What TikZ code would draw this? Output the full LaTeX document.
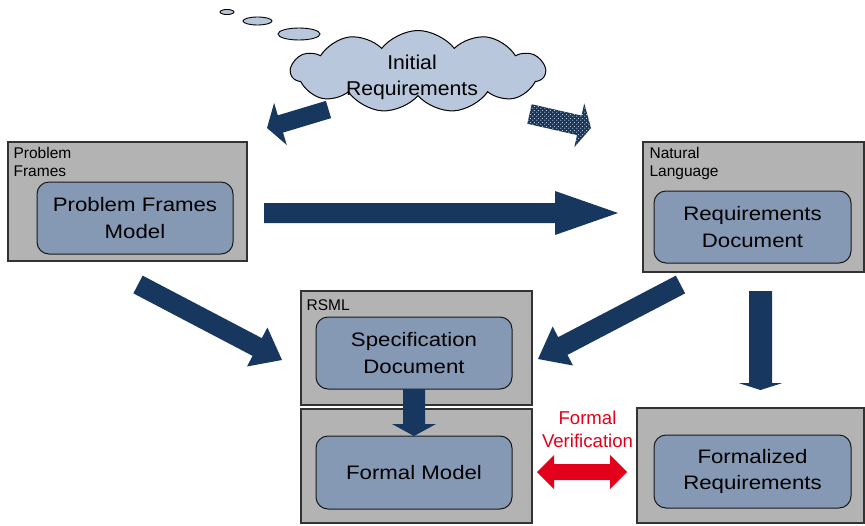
\documentclass[tikz,border=0pt]{standalone}
\usepackage{fontspec}
\setmainfont{Liberation Sans}
\newfontfamily\boxfont{Liberation Sans}[FakeStretch=1.14]
\newfontfamily\cloudfont{Liberation Sans}[FakeStretch=1.06]
\usetikzlibrary{calc,shapes.symbols,shapes.geometric,patterns.meta}

\definecolor{navyarrow}{HTML}{17375E}
\definecolor{framegray}{HTML}{B3B3B3}
\definecolor{modelblue}{HTML}{8699B4}
\definecolor{cloudblue}{HTML}{B9C7DC}
\definecolor{verifred}{HTML}{E2001A}

% sparse dot grid for the hatched arrow
\tikzdeclarepattern{name=whitedots, type=uncolored,
  bounding box={(0pt,0pt) and (4pt,4pt)}, tile size={(4pt,4pt)},
  code={\fill (1pt,1pt) circle (0.75pt); \fill (3pt,3pt) circle (0.75pt);}}

% block arrow from #2 to #3: shaft width #4, head width #5, head length #6 (all pt)
\newcommand\blockarrow[6][]{%
  \path[#1] let \p1=(#2), \p2=(#3),
      \n1={atan2(\y2-\y1,\x2-\x1)}, \n2={veclen(\x2-\x1,\y2-\y1)} in
    [shift={(\x1,\y1)}, rotate=\n1]
    (0pt,{#4/2*1pt}) -- ({(\n2-#6)*1pt},{#4/2*1pt}) -- ({(\n2-#6)*1pt},{#5/2*1pt})
    -- ({\n2*1pt},0pt) -- ({(\n2-#6)*1pt},{-#5/2*1pt}) -- ({(\n2-#6)*1pt},{-#4/2*1pt})
    -- (0pt,{-#4/2*1pt}) -- cycle;}

\tikzset{
  frame/.style={draw=black!80, fill=framegray, line width=1.2pt, inner sep=0pt},
  model/.style={draw=black!90, fill=modelblue, line width=1pt, rounded corners=12pt,
    align=center, inner sep=0pt, minimum width=196pt, minimum height=72pt,
    font=\boxfont\fontsize{19.5}{26.5}\selectfont},
  framelabel/.style={anchor=north west, align=left, inner sep=0pt,
    font=\fontsize{15.5}{18}\selectfont},
  bubble/.style={ellipse, draw=black, line width=0.9pt, fill=cloudblue, inner sep=0pt},
  solidarrow/.style={fill=navyarrow},
  dotarrow/.style={preaction={fill=navyarrow}, pattern=whitedots, pattern color=white!80!navyarrow},
}

\begin{document}
\begin{tikzpicture}[x=1pt,y=-1pt]
\useasboundingbox (0,0) rectangle (865,525);

% thought cloud with its trailing bubbles
\node[bubble, minimum width=14pt, minimum height=5pt] (b1) at (227,12) {};
\node[bubble, minimum width=29pt, minimum height=8pt] (b2) at (257.5,21) {};
\node[bubble, minimum width=42pt, minimum height=12pt] (b3) at (299,34) {};
\node[cloud, cloud puffs=11, cloud puff arc=105, aspect=3.2, draw=black, line width=1pt,
      fill=cloudblue, minimum width=254pt, minimum height=82pt, inner sep=0pt] (cloud) at (418,71.5) {};
\node[align=center, inner sep=0pt, font=\cloudfont\fontsize{20}{26}\selectfont] (cloudtext) at (412,77) {Initial\\Requirements};

% frames
\node[frame, minimum width=239pt, minimum height=119pt] (pfo) at (127.5,201.5) {};
\node[frame, minimum width=221pt, minimum height=130pt] (nlo) at (753.5,207) {};
\node[frame, minimum width=231pt, minimum height=114pt] (rso) at (416.5,348) {};
\node[frame, minimum width=231pt, minimum height=114pt] (fmo) at (416.5,466) {};
\node[frame, minimum width=227pt, minimum height=115pt] (fro) at (750.5,465.5) {};

\node[framelabel] (pflabel) at ($(pfo.north west)+(6,5.5)$) {Problem\\Frames};
\node[framelabel] (nllabel) at ($(nlo.north west)+(7,5.5)$) {Natural\\Language};
\node[framelabel] (rslabel) at ($(rso.north west)+(6,9.5)$) {RSML};

% models
\node[model] (pfm) at (135,218) {Problem Frames\\Model};
\node[model, minimum width=197pt] (rdoc) at (752.5,227) {Requirements\\Document};
\node[model] (spec) at (414,353) {Specification\\Document};
\node[model, minimum height=73pt] (fmodel) at (414,472.5) {Formal Model};
\node[model, minimum width=197pt, minimum height=73pt] (freq) at (752.5,471.5) {Formalized\\Requirements};

% verification label
\node[align=center, inner sep=0pt, text=verifred, font=\fontsize{18.6}{23}\selectfont] (fvlabel) at (587.5,429) {Formal\\Verification};

% arrow end points
\coordinate (c2pf-s) at (328.5,109.5);  \coordinate (c2pf-e) at (267,128);
\coordinate (c2nl-s) at (529.5,114);    \coordinate (c2nl-e) at (591,128);
\coordinate (pf2nl-s) at (264,213);     \coordinate (pf2nl-e) at (618,213);
\coordinate (pf2rs-s) at (138,284.5);   \coordinate (pf2rs-e) at (282,360);
\coordinate (nl2rs-s) at (680.5,284.5); \coordinate (nl2rs-e) at (538,359);
\coordinate (nl2fr-s) at (760.5,291);   \coordinate (nl2fr-e) at (760.5,390);
\coordinate (sp2fm-s) at (414,389);     \coordinate (sp2fm-e) at (414,436);
\coordinate (fv-l) at (537,472);        \coordinate (fv-r) at (627,472);

% block arrows
\blockarrow[solidarrow]{c2pf-s}{c2pf-e}{18}{44}{14}
\blockarrow[dotarrow]{c2nl-s}{c2nl-e}{20}{45}{12}
\blockarrow[solidarrow]{pf2nl-s}{pf2nl-e}{20}{44}{63}
\blockarrow[solidarrow]{pf2rs-s}{pf2rs-e}{20}{44}{28}
\blockarrow[solidarrow]{nl2rs-s}{nl2rs-e}{20}{44}{28}
\blockarrow[solidarrow]{nl2fr-s}{nl2fr-e}{23}{44}{7}
\blockarrow[solidarrow]{sp2fm-s}{sp2fm-e}{22}{44}{12}

% double-headed verification arrow
\path[fill=verifred] (fv-l) -- ++(17,-17) -- ++(0,9) -- ++(56,0) -- ++(0,-9) -- (fv-r)
  -- ++(-17,17) -- ++(0,-9) -- ++(-56,0) -- ++(0,9) -- cycle;
\end{tikzpicture}
\end{document}
